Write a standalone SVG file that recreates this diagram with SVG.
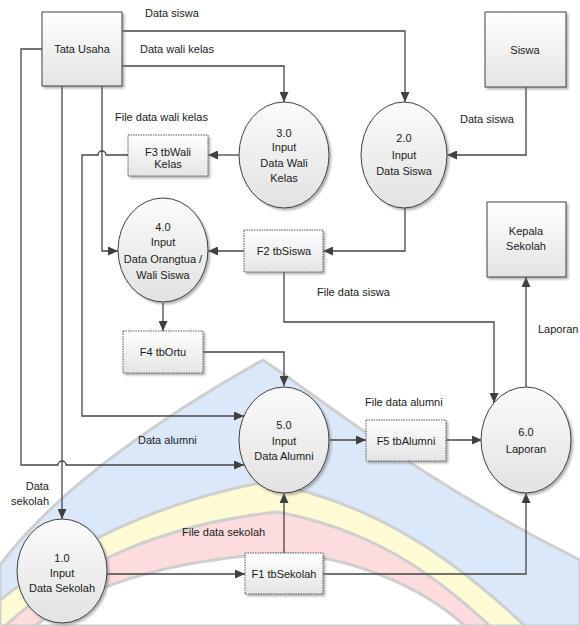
<svg xmlns="http://www.w3.org/2000/svg" width="580" height="626" viewBox="0 0 580 626">
<style>
text{font-family:"Liberation Sans",Arial,sans-serif;font-size:11px;fill:#1a1a1a}
.c{text-anchor:middle}
.e{text-anchor:end}
.ent{fill:url(#gb);stroke:#404040;stroke-width:1}
.proc{fill:url(#ge);stroke:#404040;stroke-width:1}
.store{fill:url(#gb);stroke:#555;stroke-width:1;stroke-dasharray:1.5 1}
.ln{fill:none;stroke:#454545;stroke-width:1.3}
.arr{marker-end:url(#ah)}
.wm{stroke:#cfcfcf;stroke-width:3;stroke-linejoin:round}
</style>
<defs>
<linearGradient id="gb" x1="0" y1="0" x2="0" y2="1"><stop offset="0" stop-color="#ffffff"/><stop offset="1" stop-color="#e4e4e4"/></linearGradient>
<linearGradient id="ge" x1="0" y1="0" x2="0" y2="1"><stop offset="0" stop-color="#fbfbfb"/><stop offset="1" stop-color="#e2e2e2"/></linearGradient>
<filter id="sh" x="-10%" y="-10%" width="130%" height="130%"><feDropShadow dx="2" dy="2" stdDeviation="1" flood-color="#777" flood-opacity="0.55"/></filter>
<marker id="ah" markerUnits="userSpaceOnUse" markerWidth="10" markerHeight="9" refX="10" refY="4.5" orient="auto"><path d="M0,0 L10,4.5 L0,9 Z" fill="#404040"/></marker>
</defs>
<rect width="580" height="626" fill="#ffffff"/>
<g id="watermark">
<path class="wm" fill="#dae8f9" d="M0,565 C60,485 170,412 263,360 C330,405 420,480 580,560 L580,626 L0,626 Z"/>
<path class="wm" fill="#fdfbd3" d="M0,600 C50,560 140,505 265,482 C360,500 440,545 525,626 L0,626 Z"/>
<path class="wm" fill="#fcdcdc" d="M5,626 C60,575 150,525 278,512 C370,530 430,570 490,626 Z"/>
<path class="wm" fill="#ffffff" d="M35,626 C80,590 160,560 283,553 C350,557 420,585 465,626 Z"/>
</g>
<g id="connectors">
<path class="ln arr" d="M122,31 H405 V102"/>
<path class="ln arr" d="M122,66 H284 V102"/>
<path class="ln arr" d="M526,87 V155 H447"/>
<path class="ln arr" d="M239,155 H208"/>
<path class="ln arr" d="M405,208 V251 H323"/>
<path class="ln arr" d="M244,251 H208"/>
<path class="ln arr" d="M102,86 V251 H118"/>
<path class="ln arr" d="M128,155 H106 A4,4 0 0 0 98,155 H82 V416 H244"/>
<path class="ln arr" d="M42,49 H21 V465 H58 A4,4 0 0 1 66,465 H244"/>
<path class="ln arr" d="M62,86 V519"/>
<path class="ln arr" d="M203,352 H284 V386"/>
<path class="ln arr" d="M163,303 V331"/>
<path class="ln arr" d="M284,272 V322 H494 V403"/>
<path class="ln arr" d="M526,388 V277"/>
<path class="ln arr" d="M329,440 H366"/>
<path class="ln arr" d="M446,440 H482"/>
<path class="ln arr" d="M107,574 H245"/>
<path class="ln arr" d="M284,553 V493"/>
<path class="ln arr" d="M323,574 H526 V493"/>
<text x="145" y="17">Data siswa</text>
<text x="140" y="53">Data wali kelas</text>
<text x="115" y="121">File data wali kelas</text>
<text x="460" y="123">Data siswa</text>
<text x="317" y="296">File data siswa</text>
<text x="538" y="333">Laporan</text>
<text x="365" y="406">File data alumni</text>
<text x="138" y="444">Data alumni</text>
<text class="e" x="49" y="490">Data</text>
<text class="e" x="49" y="505">sekolah</text>
<text x="182" y="536">File data sekolah</text>
</g>
<g id="tata-usaha"><rect class="ent" filter="url(#sh)" x="42" y="12" width="80" height="74"/><text class="c" x="82" y="53">Tata Usaha</text></g>
<g id="siswa"><rect class="ent" filter="url(#sh)" x="485" y="12" width="81" height="75"/><text class="c" x="525" y="54">Siswa</text></g>
<g id="kepala-sekolah"><rect class="ent" filter="url(#sh)" x="487" y="202" width="79" height="75"/><text class="c" x="526" y="235">Kepala</text><text class="c" x="526" y="250">Sekolah</text></g>
<g id="p3"><ellipse class="proc" filter="url(#sh)" cx="284" cy="155" rx="45" ry="53"/><text class="c" x="284" y="137">3.0</text><text class="c" x="284" y="151">Input</text><text class="c" x="284" y="167">Data Wali</text><text class="c" x="284" y="182">Kelas</text></g>
<g id="p2"><ellipse class="proc" filter="url(#sh)" cx="404" cy="155" rx="43" ry="53"/><text class="c" x="404" y="142">2.0</text><text class="c" x="404" y="159">Input</text><text class="c" x="404" y="175">Data Siswa</text></g>
<g id="p4"><ellipse class="proc" filter="url(#sh)" cx="163" cy="250" rx="45" ry="52"/><text class="c" x="163" y="231">4.0</text><text class="c" x="163" y="246">Input</text><text class="c" x="163" y="263">Data Orangtua /</text><text class="c" x="163" y="279">Wali Siswa</text></g>
<g id="p5"><ellipse class="proc" filter="url(#sh)" cx="284" cy="440" rx="45" ry="53"/><text class="c" x="284" y="429">5.0</text><text class="c" x="284" y="445">Input</text><text class="c" x="284" y="460">Data Alumni</text></g>
<g id="p6"><ellipse class="proc" filter="url(#sh)" cx="526" cy="440" rx="45" ry="53"/><text class="c" x="526" y="436">6.0</text><text class="c" x="526" y="453">Laporan</text></g>
<g id="p1"><ellipse class="proc" filter="url(#sh)" cx="62" cy="571" rx="45" ry="52"/><text class="c" x="62" y="562">1.0</text><text class="c" x="62" y="577">Input</text><text class="c" x="62" y="592">Data Sekolah</text></g>
<g id="f3"><rect class="store" filter="url(#sh)" x="128" y="135" width="80" height="41"/><text class="c" x="168" y="156">F3 tbWali</text><text class="c" x="168" y="168">Kelas</text></g>
<g id="f2"><rect class="store" filter="url(#sh)" x="244" y="230" width="79" height="42"/><text class="c" x="284" y="255">F2 tbSiswa</text></g>
<g id="f4"><rect class="store" filter="url(#sh)" x="123" y="331" width="80" height="42"/><text class="c" x="163" y="356">F4 tbOrtu</text></g>
<g id="f5"><rect class="store" filter="url(#sh)" x="366" y="420" width="80" height="41"/><text class="c" x="406" y="445">F5 tbAlumni</text></g>
<g id="f1"><rect class="store" filter="url(#sh)" x="245" y="553" width="78" height="41"/><text class="c" x="284" y="578">F1 tbSekolah</text></g>
</svg>
